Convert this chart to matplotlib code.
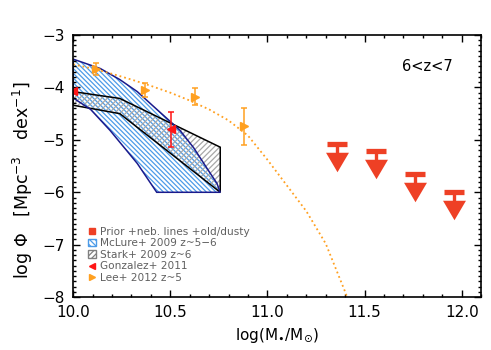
import matplotlib
matplotlib.use("Agg")
import matplotlib.pyplot as plt
from matplotlib.lines import Line2D
from matplotlib.patches import Patch
from matplotlib.ticker import MultipleLocator, FormatStrFormatter

# Lee+ 2012 z~5
lee_x = [10.12, 10.37, 10.625, 10.877]
lee_y = [-3.65, -4.05, -4.18, -4.74]
lee_err = [0.11, 0.13, 0.16, 0.35]

# Lee+ 2012 fit curve (dotted)
lee_fit_x = [10.0, 10.1, 10.2, 10.3, 10.4, 10.5, 10.6, 10.7, 10.8, 10.9,
             11.0, 11.1, 11.2, 11.3, 11.4, 11.43]
lee_fit_y = [-3.56, -3.64, -3.74, -3.85, -3.97, -4.10, -4.25, -4.42, -4.63, -4.92,
             -5.38, -5.87, -6.36, -6.98, -7.90, -8.2]

# Gonzalez+ 2011
gon_x = [10.0, 10.505]
gon_y = [-4.07, -4.80]
gon_err = [0.0, 0.33]

# Prior upper limits
prior_x = [11.36, 11.56, 11.76, 11.96]
prior_y = [-5.08, -5.22, -5.66, -6.00]

# McLure+ 2009 region
mclure_up_x = [10.0, 10.14, 10.24, 10.33, 10.41, 10.50, 10.55, 10.62, 10.69, 10.74, 10.757]
mclure_up_y = [-3.46, -3.64, -3.85, -4.08, -4.35, -4.65, -4.82, -5.15, -5.55, -5.83, -6.0]
mclure_lo_x = [10.0, 10.09, 10.19, 10.33, 10.43, 10.757]
mclure_lo_y = [-4.20, -4.42, -4.82, -5.45, -6.0, -6.0]

# Stark+ 2009 region
stark_up_x = [10.0, 10.24, 10.757]
stark_up_y = [-4.08, -4.21, -5.14]
stark_lo_x = [10.0, 10.24, 10.757]
stark_lo_y = [-4.34, -4.50, -6.0]

orange = "#FFA020"
gon_red = "#FF1515"
prior_red = "#EE4025"
hatch_blue = "#4C9BE8"
navy = "#1A1A8C"

plt.rcParams["hatch.linewidth"] = 0.9
plt.rcParams["font.family"] = "DejaVu Sans"

fig = plt.figure(figsize=(4.91, 3.5), dpi=100)
ax = fig.add_axes([0.149, 0.151, 0.831, 0.749])

# hatched regions
mc_px = mclure_up_x + mclure_lo_x[::-1]
mc_py = mclure_up_y + mclure_lo_y[::-1]
st_px = stark_up_x + stark_lo_x[::-1]
st_py = stark_up_y + stark_lo_y[::-1]
ax.fill(mc_px, mc_py, facecolor="none", edgecolor=hatch_blue, hatch="\\" * 7, lw=0)
ax.fill(st_px, st_py, facecolor="none", edgecolor="#A8A8A8", hatch="/" * 6, lw=0)
ax.fill(st_px, st_py, facecolor="none", edgecolor="black", lw=1.1)
ax.fill(mc_px, mc_py, facecolor="none", edgecolor=navy, lw=1.1)

# Lee fit + points
ax.plot(lee_fit_x, lee_fit_y, ls=":", color=orange, lw=1.3)
ax.errorbar(lee_x, lee_y, yerr=lee_err, fmt=">", color=orange, ms=6,
            capsize=2.2, elinewidth=1.1, capthick=1.1)

# Gonzalez
ax.errorbar(gon_x, gon_y, yerr=gon_err, fmt="<", color=gon_red, ms=6,
            capsize=2.2, elinewidth=1.1, capthick=1.1)

# Prior upper limits: bar + stem + arrow head
tri = [(-1, 0.85), (1, 0.85), (0, -0.85)]
for x, y in zip(prior_x, prior_y):
    ax.plot([x], [y], marker="_", ms=15, mew=3.8, color=prior_red)
    ax.plot([x, x], [y, y - 0.2], color=prior_red, lw=2.4, solid_capstyle="butt")
    ax.plot([x], [y - 0.34], marker=tri, ms=16.5, color=prior_red, mew=0)

ax.text(0.868, 0.879, "6<z<7", transform=ax.transAxes, fontsize=10.5,
        ha="center", va="center")

ax.set_xlim(10.0, 12.1)
ax.set_ylim(-8, -3)
ax.xaxis.set_major_locator(MultipleLocator(0.5))
ax.xaxis.set_minor_locator(MultipleLocator(0.1))
ax.yaxis.set_major_locator(MultipleLocator(1))
ax.yaxis.set_minor_locator(MultipleLocator(0.1))
ax.tick_params(which="both", direction="in", top=True, right=True, width=1.0)
ax.tick_params(which="major", length=5, labelsize=11, pad=6)
ax.tick_params(which="minor", length=2.5)
ax.xaxis.set_major_formatter(FormatStrFormatter("%.1f"))
for s in ax.spines.values():
    s.set_linewidth(1.2)

ax.set_xlabel(r"log(M$_{\bullet}$/M$_{\odot}$)", fontsize=11)
ax.set_ylabel(r"log $\Phi$   [Mpc$^{-3}$   dex$^{-1}$]", fontsize=12.5)
ax.yaxis.set_label_coords(-0.093, 0.445)

handles = [
    Line2D([], [], marker="s", color=prior_red, ls="none", ms=5),
    Patch(facecolor="white", edgecolor=hatch_blue, hatch="\\" * 6),
    Patch(facecolor="white", edgecolor="#808080", hatch="/" * 6),
    Line2D([], [], marker="<", color=gon_red, ls="none", ms=5),
    Line2D([], [], marker=">", color=orange, ls="none", ms=5),
]
labels = ["Prior +neb. lines +old/dusty", "McLure+ 2009 z~5\u22126",
          "Stark+ 2009 z~6", "Gonzalez+ 2011", "Lee+ 2012 z~5"]
leg = ax.legend(handles, labels, loc="upper left", bbox_to_anchor=(0.035, 0.272),
                frameon=False, fontsize=7.6, handlelength=0.7, handleheight=0.7,
                handletextpad=0.4, labelspacing=0.14, borderpad=0.1, borderaxespad=0)
for t in leg.get_texts():
    t.set_color("#606060")

fig.savefig("out.png", dpi=100)
